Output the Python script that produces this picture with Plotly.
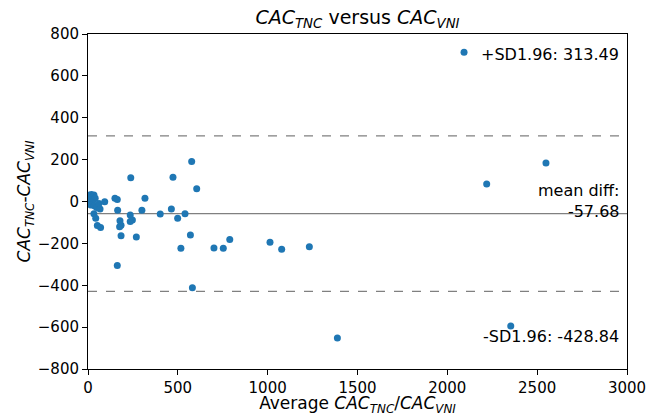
import plotly.graph_objects as go

# Bland-Altman data: average (x) vs difference (y)
avg_vals = [5, 18, 33, 10, 3, 22, 28, 40, 15, 8, 25, 15, 35, 48, 61, 67, 33, 43, 52, 70, 93,
            150, 163, 165, 178, 184, 176, 184, 163,
            238, 235, 247, 235, 269, 300, 317,
            402, 464, 473, 499, 517, 540, 570, 577, 581, 605,
            701, 753, 789, 1013, 1078, 1232,
            1388, 2093, 2219, 2353, 2549]
diff_vals = [30, 34, 31, 15, 5, 20, 10, 15, 0, -5, -10, -17, -20, -29, -9, -36, -58, -80, -115, -124, -1,
             15, 10, -42, -92, -114, -120, -164, -306,
             114, -64, -88, -96, -170, -42, 16,
             -60, -36, 116, -80, -223, -58, -160, 191, -412, 61,
             -222, -223, -181, -195, -228, -216,
             -652, 713, 83, -595, 184]

mean_diff = -57.68
upper_sd = 313.49
lower_sd = -428.84

x_ticks = [0, 500, 1000, 1500, 2000, 2500, 3000]
y_ticks = [-800, -600, -400, -200, 0, 200, 400, 600, 800]

FONT = "DejaVu Sans"

fig = go.Figure()
fig.add_trace(go.Scatter(
    x=avg_vals, y=diff_vals, mode="markers",
    marker=dict(color="#1f77b4", size=7, line=dict(width=0)),
    showlegend=False, hoverinfo="x+y"))

for val, dash in [(mean_diff, "solid"), (upper_sd, "dash"), (lower_sd, "dash")]:
    fig.add_shape(type="line", xref="paper", x0=0, x1=1, yref="y", y0=val, y1=val,
                  line=dict(color="#808080", width=1.2, dash=dash), layer="below")

fig.add_annotation(xref="paper", x=0.988, yref="y", y=upper_sd, yshift=81,
                   text=f"+SD1.96: {upper_sd:.2f}", showarrow=False, xanchor="right",
                   yanchor="middle", font=dict(family=FONT, size=16, color="black"))
fig.add_annotation(xref="paper", x=0.988, yref="y", y=mean_diff, yshift=13,
                   text=f"mean diff:<br>{mean_diff:.2f}", showarrow=False, xanchor="right",
                   align="right", yanchor="middle",
                   font=dict(family=FONT, size=16, color="black"))
fig.add_annotation(xref="paper", x=0.988, yref="y", y=lower_sd, yshift=-45,
                   text=f"-SD1.96: {lower_sd:.2f}", showarrow=False, xanchor="right",
                   yanchor="middle", font=dict(family=FONT, size=16, color="black"))

axis_common = dict(showline=True, linecolor="black", linewidth=1, mirror=True,
                   ticks="outside", ticklen=5, tickwidth=1, tickcolor="black",
                   showgrid=False, zeroline=False,
                   tickfont=dict(family=FONT, size=15, color="black"))

fig.update_xaxes(range=[0, 3000], tickvals=x_ticks,
                 title=dict(text="Average <i>CAC<sub>TNC</sub></i>/<i>CAC<sub>VNI</sub></i>",
                            font=dict(family=FONT, size=17, color="black"), standoff=3),
                 **axis_common)
fig.update_yaxes(range=[-800, 800], tickvals=y_ticks,
                 title=dict(text="<i>CAC<sub>TNC</sub></i>-<i>CAC<sub>VNI</sub></i>",
                            font=dict(family=FONT, size=17, color="black"), standoff=2),
                 **axis_common)

fig.update_layout(
    width=653, height=416,
    margin=dict(l=88, r=26, t=34, b=47, autoexpand=False),
    paper_bgcolor="white", plot_bgcolor="white",
    title=dict(text="<i>CAC<sub>TNC</sub></i> versus <i>CAC<sub>VNI</sub></i>",
               x=(88 + 627) / 2 / 653, xanchor="center", y=1 - 17 / 416, yanchor="middle",
               font=dict(family=FONT, size=19, color="black")),
    font=dict(family=FONT, color="black"),
)

fig.write_html("out.html", config={"displayModeBar": False},
               post_script="document.body.style.margin='0';document.body.style.padding='0';")
